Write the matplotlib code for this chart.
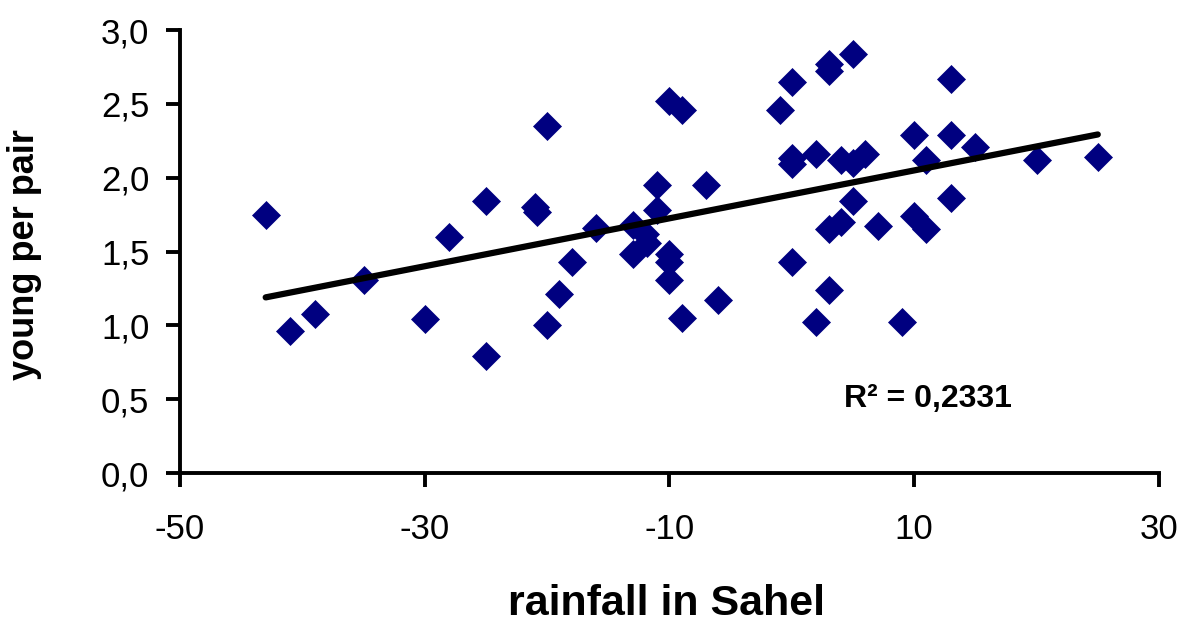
import numpy as np
import matplotlib.pyplot as plt
from matplotlib.ticker import FuncFormatter

plt.rcParams['font.family'] = ['Liberation Sans', 'DejaVu Sans']
plt.rcParams['axes.unicode_minus'] = False

# rainfall anomaly in the Sahel vs breeding success
rainfall = [-43, -41, -39, -35, -30, -28, -25, -25, -21, -20.8, -20, -20, -19, -18,
            -16, -13, -12, -11.8, -13, -11, -11, -7, -10, -10, -10, -9, -6, -10, -9,
            5, 3, 3, 0, -1, 13, 0, 0, 2, 4, 5, 6, 10, 13, 11, 15, 20, 25,
            5, 13, 3, 4, 7, 10, 11, 0, 3, 2, 9]
young = [1.75, 0.96, 1.08, 1.31, 1.04, 1.60, 1.84, 0.79, 1.80, 1.77, 2.35, 1.00, 1.21, 1.43,
         1.66, 1.68, 1.62, 1.56, 1.48, 1.95, 1.78, 1.95, 1.48, 1.43, 1.31, 1.05, 1.17, 2.52, 2.46,
         2.84, 2.77, 2.72, 2.65, 2.46, 2.67, 2.13, 2.09, 2.16, 2.12, 2.10, 2.16, 2.29, 2.29, 2.12, 2.21, 2.12, 2.14,
         1.84, 1.86, 1.65, 1.70, 1.67, 1.74, 1.65, 1.43, 1.24, 1.02, 1.02]

x = np.array(rainfall)
y = np.array(young)

fig = plt.figure(figsize=(11.86, 6.28), dpi=100)
ax = fig.add_axes([0.1518, 0.2468, 0.8254, 0.7054])

ax.plot(x, y, linestyle='none', marker='D', markersize=14.5,
        color='#000080', markeredgecolor='#000080', markeredgewidth=0.5)

# linear trendline over the data range
slope, intercept = np.polyfit(x, y, 1)
xs = np.linspace(x.min(), x.max(), 50)
ax.plot(xs, slope * xs + intercept, color='black', linewidth=4.5, solid_capstyle='round')

ax.set_xlim(-50, 30)
ax.set_ylim(0, 3)
ax.set_xticks([-50, -30, -10, 10, 30])
ax.set_yticks(np.arange(0, 3.01, 0.5))
ax.yaxis.set_major_formatter(FuncFormatter(lambda v, p: f"{v:.1f}".replace('.', ',')))

for side in ['top', 'right']:
    ax.spines[side].set_visible(False)
for side in ['left', 'bottom']:
    ax.spines[side].set_linewidth(2.8)
ax.tick_params(axis='both', direction='out', length=10, width=2.8, labelsize=25)
ax.tick_params(axis='x', pad=19)
ax.tick_params(axis='y', pad=12)

fig.text(0.5616, 0.006, 'rainfall in Sahel', fontsize=31, fontweight='bold',
         ha='center', va='bottom')
fig.text(0.021, 0.594, 'young per pair', fontsize=26, fontweight='bold',
         rotation=90, ha='center', va='center')

ax.text(4.3, 0.50, 'R² = 0,2331', fontsize=23, fontweight='bold', ha='left', va='center')

fig.savefig('out.png', dpi=100)
